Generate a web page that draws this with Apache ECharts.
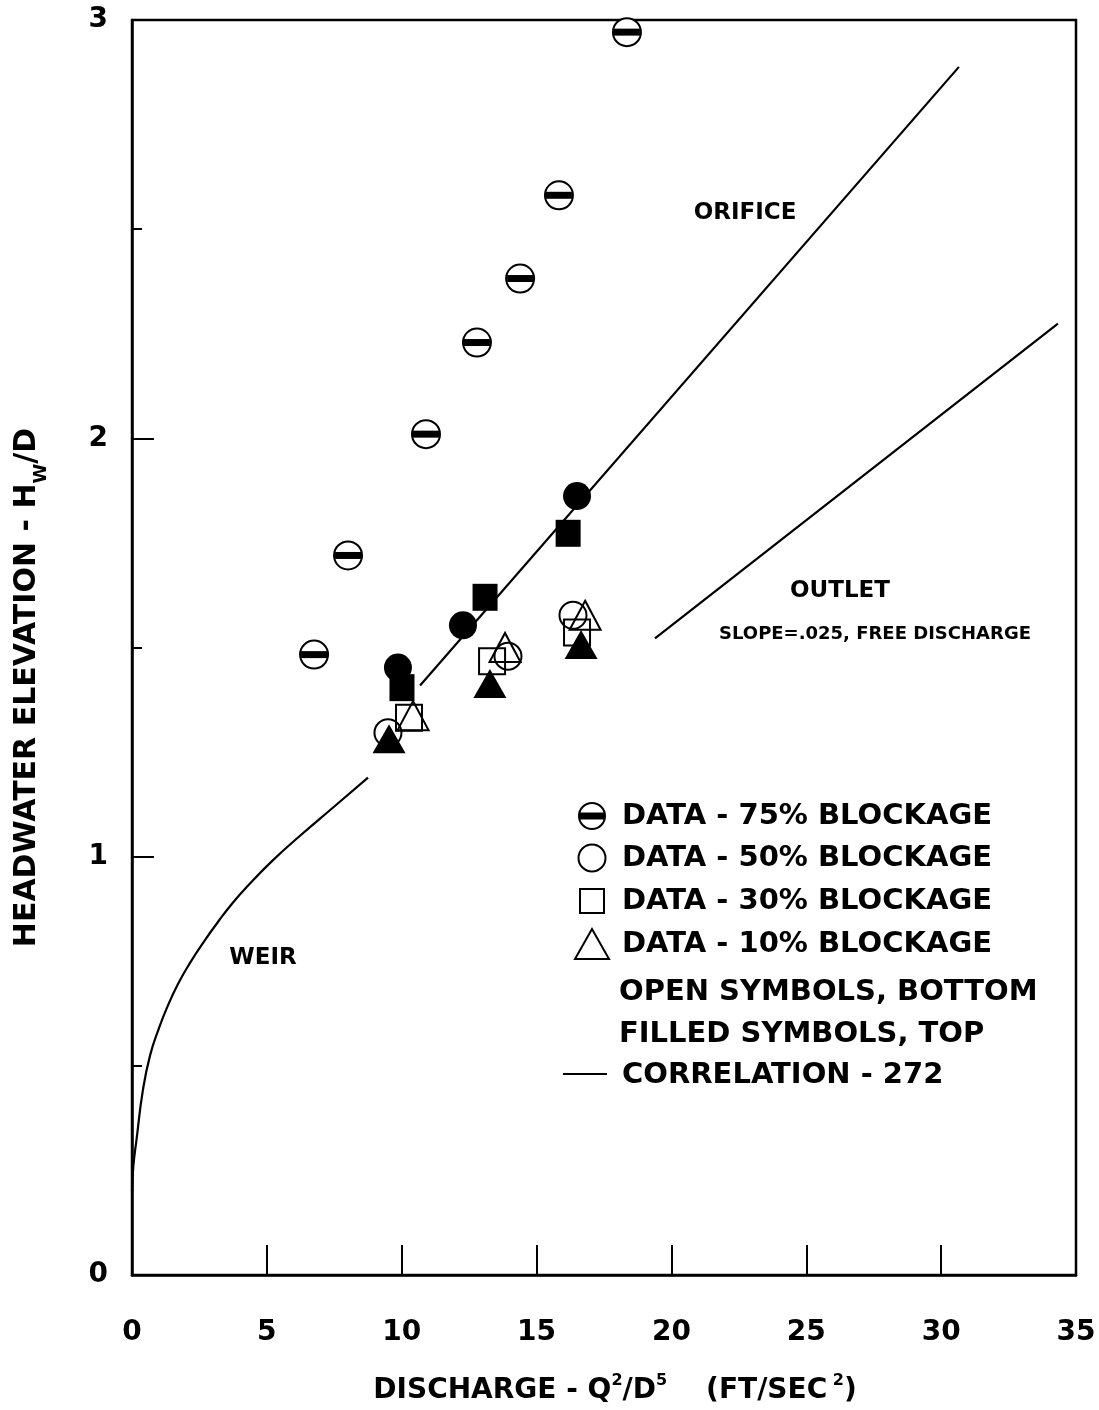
<!DOCTYPE html>
<html>
<head>
<meta charset="utf-8">
<script src="https://cdn.jsdelivr.net/npm/echarts@6/dist/echarts.min.js"></script>
<style>
  html, body { margin: 0; padding: 0; background: #fff; }
  #chart { width: 1099px; height: 1410px; }
</style>
</head>
<body>
<div id="chart"></div>
<script>
// Axis ranges / tick steps
const xTicks = [0, 5, 10, 15, 20, 25, 30, 35];
const yTicks = [0, 1, 2, 3];
const yMinorStep = 0.5;

// Measured headwater ratios, [Q^2/D^5, Hw/D]
const blockage75 = [[6.75, 1.483], [8.01, 1.72], [10.9, 2.01], [12.79, 2.229], [14.39, 2.382], [15.83, 2.581], [18.35, 2.971]];
const blockage50Top = [[9.86, 1.452], [12.27, 1.553], [16.5, 1.862]];
const blockage30Top = [[10.01, 1.404], [13.09, 1.62], [16.17, 1.773]];
const blockage10Top = [[9.53, 1.282], [13.27, 1.414], [16.65, 1.507]];
const blockage50Bottom = [[9.49, 1.296], [13.94, 1.479], [16.35, 1.577]];
const blockage30Bottom = [[10.27, 1.332], [13.35, 1.467], [16.5, 1.536]];
const blockage10Bottom = [[10.42, 1.337], [13.83, 1.5], [16.8, 1.577]];

// Correlation 272 curves
const weirCurve = [[0.0, 0.2], [0.05, 0.26], [0.17, 0.325], [0.4, 0.44], [0.67, 0.525], [1.0, 0.59], [1.29, 0.638], [1.7, 0.695], [2.14, 0.745], [2.7, 0.8], [3.2, 0.845], [3.7, 0.887], [4.26, 0.928], [5.2, 0.99], [6.23, 1.05], [7.5, 1.12], [8.75, 1.189]];
const orificeLine = [[10.68, 1.409], [30.66, 2.888]];
const outletLine = [[19.39, 1.522], [34.33, 2.274]];

const FONT = 'DejaVu Sans';
const chart = echarts.init(document.getElementById('chart'), null, { renderer: 'canvas' });

function openSeries(name, data, symbol, size) {
  return {
    name, type: 'scatter', data, symbol, symbolSize: size, z: 3,
    itemStyle: { color: 'rgba(0,0,0,0)', borderColor: '#000', borderWidth: 2, opacity: 1 }
  };
}
function filledSeries(name, data, symbol, size) {
  return {
    name, type: 'scatter', data, symbol, symbolSize: size, z: 4,
    itemStyle: { color: '#000', borderColor: '#000', borderWidth: 0, opacity: 1 }
  };
}
function curve(name, data, smooth) {
  return {
    name, type: 'line', data, smooth: smooth ? 0.5 : false,
    showSymbol: false, symbol: 'none', z: 2,
    lineStyle: { color: '#000', width: 2.2 }
  };
}

function txt(text, x, y, size, align) {
  return {
    type: 'text', x, y, z: 10,
    style: {
      text, fill: '#000', font: 'bold ' + size + 'px "' + FONT + '"',
      fontFamily: FONT, fontWeight: 'bold', fontSize: size,
      align: align || 'left', verticalAlign: 'middle',
      textAlign: align || 'left', textVerticalAlign: 'middle'
    }
  };
}

const legendRows = [
  'DATA - 75% BLOCKAGE',
  'DATA - 50% BLOCKAGE',
  'DATA - 30% BLOCKAGE',
  'DATA - 10% BLOCKAGE'
];
const legendNotes = ['OPEN SYMBOLS, BOTTOM', 'FILLED SYMBOLS, TOP'];
const legendLine = 'CORRELATION - 272';

const stroke = { stroke: '#000', lineWidth: 2, fill: 'none' };

const option = {
  backgroundColor: '#fff',
  animation: false,
  textStyle: { fontFamily: FONT },
  grid: {
    left: 132, right: 23, top: 20, bottom: 135,
    show: true, borderColor: '#000', borderWidth: 2.5, backgroundColor: 'transparent'
  },
  xAxis: {
    type: 'value', min: xTicks[0], max: xTicks[xTicks.length - 1], interval: xTicks[1] - xTicks[0],
    axisLine: { show: true, lineStyle: { color: '#000', width: 2.5 } },
    axisTick: { show: true, inside: true, length: 30, lineStyle: { color: '#000', width: 2 } },
    splitLine: { show: false },
    axisLabel: { color: '#000', fontSize: 28, fontWeight: 'bold', fontFamily: FONT, margin: 44 },
    name: '{t|DISCHARGE - Q}{s|2}{t|/D}{s|5}{t|    (FT/SEC}{s| 2}{t|)}',
    nameLocation: 'middle', nameGap: 96,
    nameTextStyle: {
      padding: [0, 0, 0, 22],
      rich: {
        t: { fontSize: 28, fontFamily: FONT, fontWeight: 'bold', color: '#000', lineHeight: 34, verticalAlign: 'bottom' },
        s: { fontSize: 16, fontFamily: FONT, fontWeight: 'bold', color: '#000', lineHeight: 34, verticalAlign: 'top', padding: [2, 0, 0, 0] }
      }
    }
  },
  yAxis: [
    {
      type: 'value', min: yTicks[0], max: yTicks[yTicks.length - 1], interval: yTicks[1] - yTicks[0],
      axisLine: { show: true, lineStyle: { color: '#000', width: 2.5 } },
      axisTick: { show: true, inside: true, length: 22, lineStyle: { color: '#000', width: 2 } },
      splitLine: { show: false },
      axisLabel: { color: '#000', fontSize: 28, fontWeight: 'bold', fontFamily: FONT, margin: 24 },
      name: '{t|HEADWATER ELEVATION - H}{b|W}{t|/D}',
      nameLocation: 'middle', nameGap: 82, nameRotate: 90,
      nameTextStyle: {
        padding: [0, 80, 0, 0],
        rich: {
          t: { fontSize: 30, fontFamily: FONT, fontWeight: 'bold', color: '#000', lineHeight: 38, verticalAlign: 'top' },
          b: { fontSize: 18, fontFamily: FONT, fontWeight: 'bold', color: '#000', lineHeight: 38, verticalAlign: 'bottom' }
        }
      }
    },
    {
      // half-unit inner ticks along the left edge
      type: 'value', position: 'left', offset: 0,
      min: yTicks[0], max: yTicks[yTicks.length - 1], interval: yMinorStep,
      axisLine: { show: false },
      axisTick: { show: true, inside: true, length: 10, lineStyle: { color: '#000', width: 2 } },
      splitLine: { show: false },
      axisLabel: { show: false }
    }
  ],
  series: [
    curve('Weir', weirCurve, true),
    curve('Orifice', orificeLine, false),
    curve('Outlet', outletLine, false),
    {
      name: '75% blockage', type: 'scatter', data: blockage75, symbol: 'circle', symbolSize: 28, z: 3,
      itemStyle: { color: '#fff', borderColor: '#000', borderWidth: 2, opacity: 1 }
    },
    {
      name: '75% blockage bar', type: 'scatter', data: blockage75, symbol: 'rect', symbolSize: [26, 7], z: 4,
      itemStyle: { color: '#000', opacity: 1 }
    },
    openSeries('50% bottom', blockage50Bottom, 'circle', 27),
    openSeries('30% bottom', blockage30Bottom, 'rect', 26),
    openSeries('10% bottom', blockage10Bottom, 'triangle', [31, 29]),
    filledSeries('50% top', blockage50Top, 'circle', 28),
    filledSeries('30% top', blockage30Top, 'rect', [25, 27]),
    filledSeries('10% top', blockage10Top, 'triangle', [33, 29])
  ],
  graphic: [
    txt('ORIFICE', 745, 213, 23, 'center'),
    txt('OUTLET', 840, 591, 23, 'center'),
    txt('SLOPE=.025, FREE DISCHARGE', 875, 634, 18, 'center'),
    txt('WEIR', 263, 958, 23, 'center'),
    // legend symbols
    { type: 'circle', z: 10, shape: { cx: 592, cy: 816, r: 13 }, style: { stroke: '#000', lineWidth: 2, fill: '#fff' } },
    { type: 'rect', z: 11, shape: { x: 579, y: 812.5, width: 26, height: 7 }, style: { fill: '#000' } },
    { type: 'circle', z: 10, shape: { cx: 592, cy: 858, r: 13.5 }, style: stroke },
    { type: 'rect', z: 10, shape: { x: 580, y: 889, width: 24, height: 24 }, style: stroke },
    { type: 'polygon', z: 10, shape: { points: [[575, 959], [609, 959], [592, 929]] }, style: stroke },
    { type: 'line', z: 10, shape: { x1: 563, y1: 1074, x2: 607, y2: 1074 }, style: { stroke: '#000', lineWidth: 2 } },
    txt(legendRows[0], 622, 816, 29),
    txt(legendRows[1], 622, 858, 29),
    txt(legendRows[2], 622, 901, 29),
    txt(legendRows[3], 622, 944, 29),
    txt(legendNotes[0], 619, 992, 29),
    txt(legendNotes[1], 619, 1034, 29),
    txt(legendLine, 622, 1075, 29)
  ]
};

chart.setOption(option);
</script>
</body>
</html>
